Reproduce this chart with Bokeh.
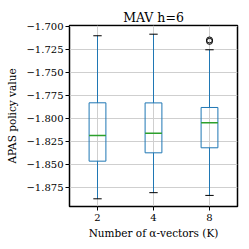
from bokeh.plotting import figure
from bokeh.models import Range1d, FixedTicker, ColumnDataSource
from bokeh.embed import file_html
from bokeh.resources import INLINE

# ---- data ----
categories = ["2", "4", "8"]
q1 = [-1.8466, -1.8375, -1.8320]
median = [-1.8186, -1.8160, -1.8047]
q3 = [-1.7829, -1.7830, -1.7880]
whisker_low = [-1.8877, -1.8810, -1.8840]
whisker_high = [-1.7097, -1.7080, -1.7250]
outlier_cat = ["8", "8"]
outlier_val = [-1.7143, -1.7158]
y_ticks = [-1.875, -1.850, -1.825, -1.800, -1.775, -1.750, -1.725, -1.700]
y_tick_labels = ["−1.875", "−1.850", "−1.825", "−1.800", "−1.775", "−1.750", "−1.725", "−1.700"]
title_text = "MAV h=6"
x_label = "Number of α-vectors (K)"
y_label = "APAS policy value"

FONT = "DejaVu Serif"
BLUE = "#1f77b4"
GREEN = "#2ca02c"

pos = [i + 1 for i in range(len(categories))]
box_w = 0.3
cap_w = 0.15

src = ColumnDataSource(dict(
    x=pos, q1=q1, med=median, q3=q3, lo=whisker_low, hi=whisker_high,
    left=[x - box_w / 2 for x in pos], right=[x + box_w / 2 for x in pos],
    cl=[x - cap_w / 2 for x in pos], cr=[x + cap_w / 2 for x in pos],
))

p = figure(width=241, height=241, output_backend="svg", toolbar_location=None,
           x_range=Range1d(0.5, 3.5), y_range=Range1d(-1.8961, -1.6985),
           min_border_left=69, min_border_right=4, min_border_top=25, min_border_bottom=35,
           title=title_text)

p.background_fill_color = "white"
p.border_fill_color = "white"
p.outline_line_color = "black"
p.outline_line_width = 1.5

p.title.text_font = FONT
p.title.text_font_size = "12.5px"
p.title.text_font_style = "normal"
p.title.text_color = "black"
p.title.align = "center"
p.title.standoff = 2

p.xgrid.grid_line_color = "#cfcfcf"
p.ygrid.grid_line_color = "#cfcfcf"
p.xgrid.grid_line_width = 1
p.ygrid.grid_line_width = 1

p.xaxis.ticker = FixedTicker(ticks=pos)
p.xaxis.major_label_overrides = {x: c for x, c in zip(pos, categories)}
p.yaxis.ticker = FixedTicker(ticks=y_ticks)
p.yaxis.major_label_overrides = {t: l for t, l in zip(y_ticks, y_tick_labels)}
for ax in (p.xaxis, p.yaxis):
    ax.axis_line_color = None
    ax.major_tick_in = 0
    ax.major_tick_out = 4
    ax.minor_tick_line_color = None
    ax.major_tick_line_color = "black"
    ax.major_label_text_font = FONT
    ax.major_label_text_font_size = "10px"
    ax.major_label_text_color = "black"
    ax.axis_label_text_font = FONT
    ax.axis_label_text_font_size = "10.5px"
    ax.axis_label_text_font_style = "normal"
    ax.axis_label_text_color = "black"
p.xaxis.major_label_standoff = 3
p.yaxis.major_label_standoff = 2
p.xaxis.axis_label = x_label
p.xaxis.axis_label_standoff = 3
p.yaxis.axis_label = y_label
p.yaxis.axis_label_standoff = 5

p.segment(x0="x", y0="q3", x1="x", y1="hi", source=src, line_color=BLUE, line_width=1)
p.segment(x0="x", y0="lo", x1="x", y1="q1", source=src, line_color=BLUE, line_width=1)
p.segment(x0="cl", y0="hi", x1="cr", y1="hi", source=src, line_color="black", line_width=1)
p.segment(x0="cl", y0="lo", x1="cr", y1="lo", source=src, line_color="black", line_width=1)
p.quad(left="left", right="right", bottom="q1", top="q3", source=src,
       fill_alpha=0, line_color=BLUE, line_width=1)
p.segment(x0="left", y0="med", x1="right", y1="med", source=src, line_color=GREEN, line_width=1.5)
ox = [pos[categories.index(c)] for c in outlier_cat]
p.scatter(ox, outlier_val, size=6, marker="circle", fill_alpha=0, line_color="black", line_width=1)

open("out.html", "w").write(file_html(p, INLINE))
